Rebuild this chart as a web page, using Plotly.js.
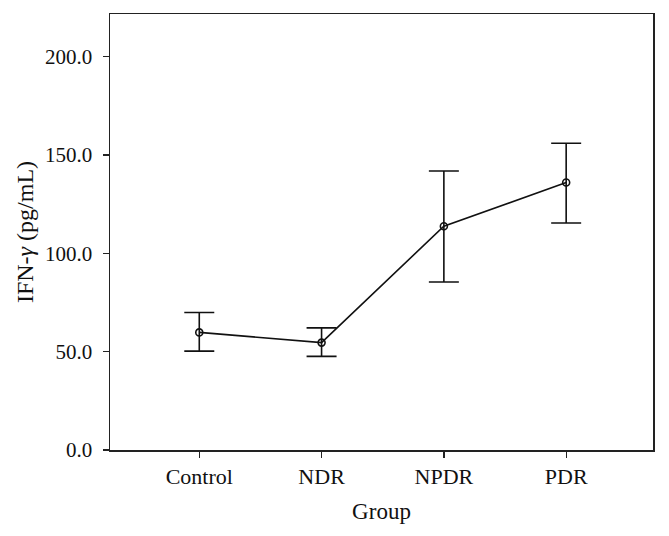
<!DOCTYPE html>
<html>
<head>
<meta charset="utf-8">
<script src="https://cdn.plot.ly/plotly-3.0.1.min.js"></script>
<style>html,body{margin:0;padding:0;background:#fff;}#chart{width:669px;height:536px;}</style>
</head>
<body>
<div id="chart"></div>
<script>
const groups = ["Control", "NDR", "NPDR", "PDR"];
const means = [59.8, 54.6, 113.8, 136.0];
const upperErr = [10.1, 7.5, 28.1, 20.0];
const lowerErr = [9.5, 7.0, 28.4, 20.6];
const yTicks = [0, 50, 100, 150, 200];

const font = "'Liberation Serif', 'DejaVu Serif', serif";

Plotly.newPlot("chart", [{
  x: groups,
  y: means,
  type: "scatter",
  mode: "lines+markers",
  line: {color: "#111", width: 1.6},
  marker: {symbol: "circle-open", size: 7, color: "#111", line: {width: 1.6}},
  error_y: {type: "data", symmetric: false, array: upperErr, arrayminus: lowerErr,
            color: "#111", thickness: 1.6, width: 15},
  hoverinfo: "none"
}], {
  width: 669, height: 536,
  margin: {l: 110, r: 16, t: 14, b: 86},
  paper_bgcolor: "#fff", plot_bgcolor: "#fff",
  showlegend: false,
  font: {family: font, size: 21, color: "#111"},
  xaxis: {
    type: "category", range: [-0.73, 3.71],
    showline: true, mirror: true, linecolor: "#222", linewidth: 1.5,
    ticks: "outside", ticklen: 6, tickwidth: 1.3, tickcolor: "#222",
    showgrid: false, zeroline: false,
    tickfont: {family: font, size: 22, color: "#111"},
    ticklabelstandoff: 0,
    title: {text: "Group", font: {family: font, size: 23, color: "#111"}, standoff: 15}
  },
  yaxis: {
    range: [0, 221.7], tickvals: yTicks, tickformat: ".1f",
    showline: true, mirror: true, linecolor: "#222", linewidth: 1.5,
    ticks: "outside", ticklen: 6, tickwidth: 1.3, tickcolor: "#222",
    showgrid: false, zeroline: false,
    tickfont: {family: font, size: 21, color: "#111"},
    ticklabelstandoff: 6,
    title: {text: "IFN-<i>γ</i> (pg/mL)", font: {family: font, size: 24, color: "#111"}, standoff: 4}
  }
}, {staticPlot: true});
</script>
</body>
</html>
